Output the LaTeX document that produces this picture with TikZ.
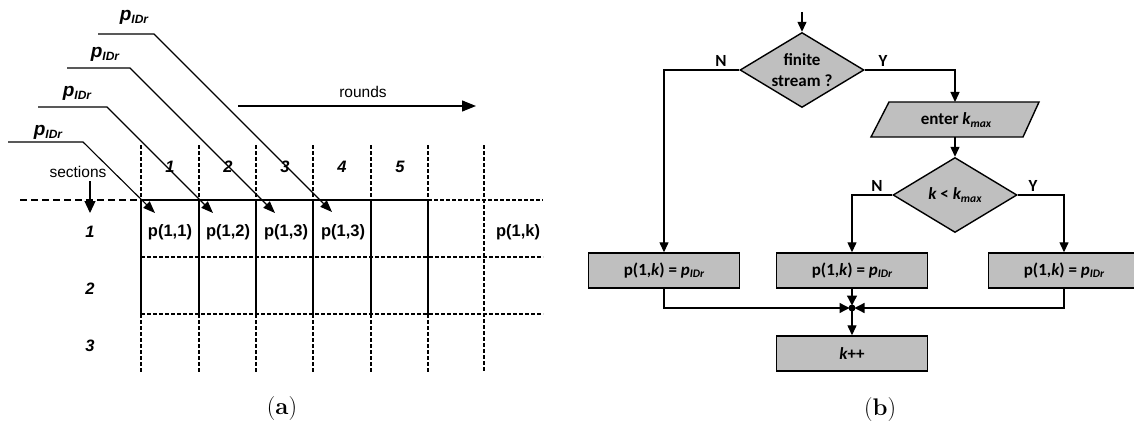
\documentclass[tikz,border=0pt]{standalone}
\usepackage{fontspec}
\usetikzlibrary{arrows.meta,shapes.geometric}
\newfontfamily\arialf{Liberation Sans}
\newfontfamily\calibf{Carlito}
% small lowered subscript in the current font
\newcommand\lowsub[2]{\raisebox{-0.3ex}{\fontsize{#1}{#1}\selectfont #2}}
\newcommand\pidrA{{\arialf\bfseries\itshape\fontsize{19}{19}\selectfont p\lowsub{12}{IDr}}}
\newcommand\pidrB{{\calibf\bfseries\itshape p\lowsub{11.5}{IDr}}}
\begin{document}
\begin{tikzpicture}[x=1pt,y=-1pt,
  solidline/.style={line width=2.4pt},
  dotline/.style={line width=1.9pt,dash pattern=on 3.5pt off 2.5pt},
  dashline/.style={line width=1.9pt,dash pattern=on 7pt off 4pt},
  feed/.style={line width=1.1pt,-{Triangle[length=12pt,width=9pt]}},
  atext/.style={font=\arialf\bfseries\fontsize{16.5}{16.5}\selectfont,inner sep=0pt},
  anum/.style={font=\arialf\bfseries\itshape\fontsize{16.5}{16.5}\selectfont,inner sep=0pt},
  aplain/.style={font=\arialf\fontsize{15.5}{15.5}\selectfont,inner sep=0pt},
  flow/.style={line width=1.3pt},
  farrow/.style={flow,-{Triangle[length=10pt,width=9pt]}},
  mergearrow/.style={flow,-{Triangle[length=10pt,width=10pt]},shorten >=2.5pt},
  fshape/.style={draw,line width=1.4pt,fill=gray!50},
  fbox/.style={fshape,minimum width=151pt,minimum height=35pt,inner sep=0pt,font=\calibf\bfseries\fontsize{17}{17}\selectfont},
  fdia/.style={fshape,shape=diamond,inner sep=0pt,minimum width=124pt,minimum height=75pt,aspect=1.65},
  ftext/.style={font=\calibf\bfseries\fontsize{17}{21}\selectfont,inner sep=0pt,align=center},
  caption/.style={font=\fontsize{24}{24}\selectfont,inner sep=0pt}]
\useasboundingbox (0,0) rectangle (1134,425);

% ---------- (a) grid of sections and rounds ----------
\foreach \x in {141,199,256,313,371,428} {
  \draw[dotline] (\x,145) -- (\x,200);
  \draw[solidline] (\x,200) -- (\x,314);
  \draw[dotline] (\x,314) -- (\x,372);
}
\draw[dotline] (484,145) -- (484,372);
\draw[dashline] (20,200) -- (141,200);
\draw[solidline] (141,200) -- (428,200);
\draw[dotline] (428,200) -- (543,200);
\draw[dotline] (141,257) -- (543,257);
\draw[dotline] (141,314) -- (543,314);

% column numbers (rounds)
\foreach \x/\n in {170/1,228/2,285/3,342/4,400/5}
  \node[anum] (col\n) at (\x,167) {\n};
% row numbers (sections)
\foreach \y/\n in {232/1,289/2,346/3}
  \node[anum] (row\n) at (90,\y) {\n};

% cell contents
\node[atext] (c11) at (170,232) {p(1,1)};
\node[atext] (c12) at (228,232) {p(1,2)};
\node[atext] (c13) at (286,232) {p(1,3)};
\node[atext] (c14) at (343,232) {p(1,3)};
\node[atext] (c1k) at (518,232) {p(1,k)};

% incoming packets
\coordinate (s1) at (8,142);   \coordinate (k1) at (83,142);  \coordinate (t1) at (155,213);
\coordinate (s2) at (38,107);  \coordinate (k2) at (107,107); \coordinate (t2) at (213,213);
\coordinate (s3) at (67,68);   \coordinate (k3) at (130,68);  \coordinate (t3) at (275,213);
\coordinate (s4) at (98,34);   \coordinate (k4) at (154,34);  \coordinate (t4) at (332,212);
\foreach \i in {1,2,3,4}
  \draw[feed] (s\i) -- (k\i) -- (t\i);
\node[inner sep=0pt] (pk1) at (48,132) {\pidrA};
\node[inner sep=0pt] (pk2) at (77,93) {\pidrA};
\node[inner sep=0pt] (pk3) at (105,54) {\pidrA};
\node[inner sep=0pt] (pk4) at (134,17) {\pidrA};

% axis labels
\node[aplain] (rounds) at (363,92) {rounds};
\coordinate (r0) at (238,106); \coordinate (r1) at (476,106);
\draw[line width=1.2pt,-{Triangle[length=14pt,width=11pt]}] (r0) -- (r1);
\node[aplain] (sections) at (78,172) {sections};
\coordinate (q0) at (90,181); \coordinate (q1) at (90,213);
\draw[line width=1.2pt,-{Triangle[length=12pt,width=11pt]}] (q0) -- (q1);

\node[caption] (capa) at (282,409) {(\textbf{a})};

% ---------- (b) flowchart ----------
\node[fdia] (d1) at (802,70) {};
\node[ftext] (d1t) at (d1) {finite\\stream ?};

% input parallelogram
\coordinate (pa) at (871,137); \coordinate (pb) at (1023,137);
\coordinate (pc) at (1039,102); \coordinate (pd) at (889,102);
\filldraw[fshape] (pa) -- (pb) -- (pc) -- (pd) -- cycle;
\coordinate (partop) at (955,102);
\coordinate (parbot) at (955,137);
\node[ftext] (part) at (956,120) {enter {\itshape k\lowsub{11.5}{max}}};

\node[fdia] (d2) at (955,195) {};
\node[ftext] (d2t) at (d2) {{\itshape k} < {\itshape k\lowsub{11.5}{max}}};

\node[fbox] (b1) at (664,270.5) {p(1,{\itshape k}) = \pidrB};
\node[fbox] (b2) at (852,270.5) {p(1,{\itshape k}) = \pidrB};
\node[fbox] (b3) at (1064,270.5) {p(1,{\itshape k}) = \pidrB};
\node[fbox] (b4) at (852,353.5) {{\itshape k}++};

\coordinate (start) at (802,12);
\coordinate (m) at (852,308);

\draw[farrow] (start) -- (d1.north);
\draw[farrow] (d1.east) -| (partop);
\draw[farrow] (d1.west) -| (b1.north);
\draw[farrow] (parbot) -- (d2.north);
\draw[farrow] (d2.west) -| (b2.north);
\draw[farrow] (d2.east) -| (b3.north);
\draw[mergearrow] (b1.south) |- (m);
\draw[mergearrow] (b3.south) |- (m);
\draw[mergearrow] (b2.south) -- (m);
\draw[farrow] (m) -- (b4.north);
\fill (m) circle (3.5pt);

\node[ftext] (n1) at (721,61) {N};
\node[ftext] (y1) at (883,61) {Y};
\node[ftext] (n2) at (877,186) {N};
\node[ftext] (y2) at (1033,186) {Y};

\node[caption] (capb) at (880,410) {(\textbf{b})};
\end{tikzpicture}
\end{document}
